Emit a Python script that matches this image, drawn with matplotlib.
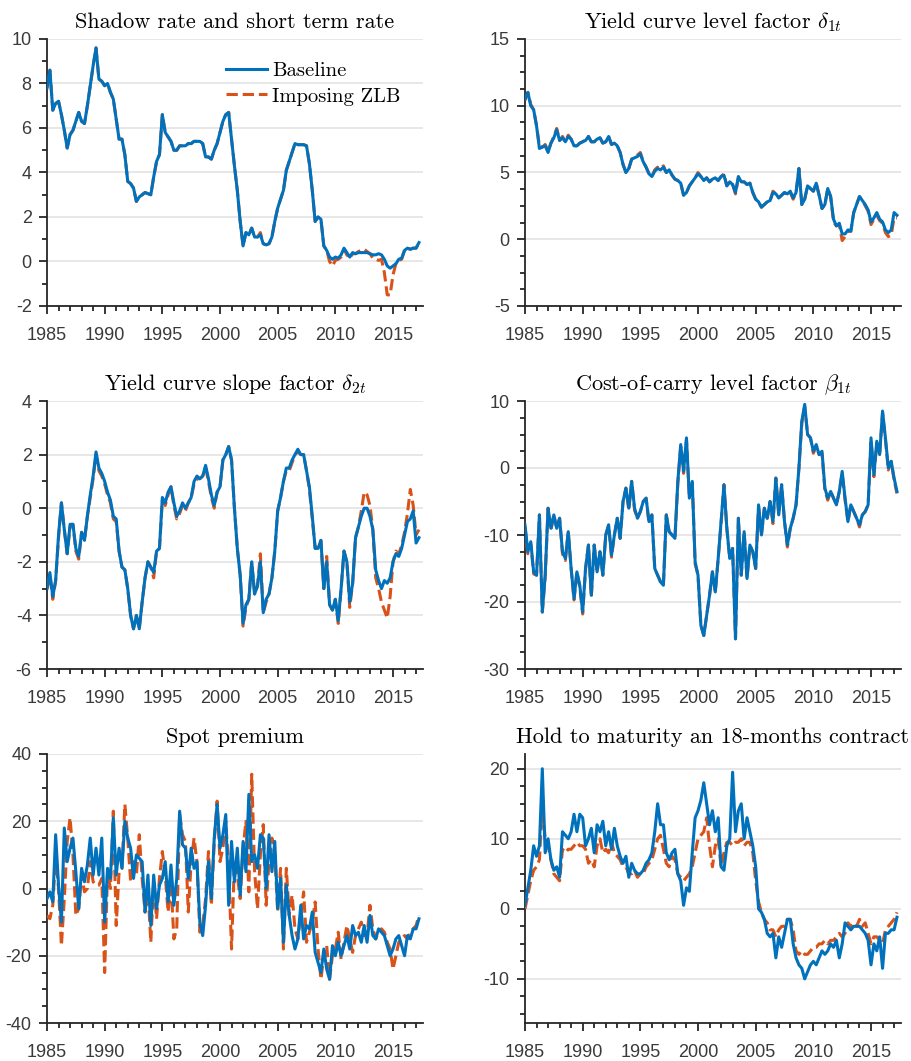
import numpy as np
import pandas as pd
import matplotlib
matplotlib.use("Agg")
import matplotlib.pyplot as plt
from matplotlib.ticker import MultipleLocator

plt.rcParams['mathtext.fontset'] = 'cm'
plt.rcParams['axes.unicode_minus'] = False

# quarterly observations, 1985Q1 .. 2017Q2
quarters = pd.period_range('1985Q1', '2017Q2', freq='Q')
t = np.asarray(quarters.year + (quarters.quarter - 1) / 4.0, dtype=float)

shadow_base = [7.8, 8.6, 6.8, 7.1, 7.2, 6.6, 5.9, 5.1,
               5.7, 5.9, 6.3, 6.7, 6.3, 6.2, 7.0, 7.9,
               8.8, 9.6, 8.2, 8.1, 7.9, 8.0, 7.6, 7.3,
               6.4, 5.5, 5.5, 4.8, 3.6, 3.5, 3.3, 2.7,
               2.9, 3.0, 3.1, 3.05, 3.0, 3.8, 4.5, 4.8,
               6.6, 5.8, 5.6, 5.4, 5.0, 5.0, 5.2, 5.2,
               5.2, 5.3, 5.3, 5.4, 5.4, 5.4, 5.3, 4.7,
               4.7, 4.6, 5.0, 5.3, 5.8, 6.3, 6.6, 6.7,
               5.5, 4.3, 3.2, 1.8, 0.7, 1.3, 1.2, 1.5,
               1.1, 1.1, 1.2, 0.8, 0.75, 0.8, 1.1, 1.8,
               2.4, 2.8, 3.2, 4.1, 4.5, 4.9, 5.3, 5.25,
               5.25, 5.25, 5.2, 4.4, 3.2, 1.8, 2.0, 1.9,
               0.7, 0.5, 0.2, 0.1, 0.2, 0.15, 0.3, 0.6,
               0.4, 0.2, 0.4, 0.35, 0.4, 0.4, 0.4, 0.4,
               0.35, 0.3, 0.3, 0.35, 0.3, 0.1, -0.2, -0.3,
               -0.2, -0.1, 0.1, 0.15, 0.5, 0.6, 0.55, 0.6,
               0.6, 0.85]
shadow_zlb = [7.8, 8.6, 6.8, 7.1, 7.2, 6.6, 5.9, 5.1,
              5.7, 5.9, 6.3, 6.7, 6.3, 6.2, 7.0, 7.9,
              8.8, 9.6, 8.2, 8.1, 7.9, 8.0, 7.6, 7.3,
              6.4, 5.5, 5.5, 4.8, 3.6, 3.5, 3.3, 2.7,
              2.9, 3.0, 3.1, 3.05, 3.0, 3.8, 4.5, 4.8,
              6.6, 5.8, 5.6, 5.4, 5.0, 5.0, 5.2, 5.2,
              5.2, 5.3, 5.3, 5.4, 5.4, 5.4, 5.3, 4.7,
              4.7, 4.6, 5.0, 5.3, 5.8, 6.3, 6.6, 6.7,
              5.5, 4.3, 3.2, 1.8, 0.7, 1.3, 1.2, 1.5,
              1.1, 1.1, 1.3, 0.8, 0.75, 0.8, 1.1, 1.8,
              2.4, 2.8, 3.2, 4.1, 4.5, 4.9, 5.3, 5.25,
              5.25, 5.25, 5.2, 4.4, 3.2, 1.8, 2.0, 1.9,
              0.7, 0.5, 0.0, -0.2, 0.05, 0.1, 0.2, 0.55,
              0.3, 0.15, 0.35, 0.35, 0.45, 0.5, 0.55, 0.45,
              0.35, 0.15, 0.1, 0.05, 0.1, -0.5, -1.5, -1.5,
              -0.6, -0.1, 0.05, 0.1, 0.5, 0.6, 0.55, 0.6,
              0.6, 0.85]

level_base = [10.5, 11.0, 10.0, 9.7, 8.5, 6.8, 6.9, 7.0,
              6.5, 7.2, 7.6, 8.2, 7.4, 7.6, 7.3, 7.7,
              7.5, 7.0, 7.0, 7.2, 7.3, 7.4, 7.7, 7.3,
              7.3, 7.5, 7.6, 7.2, 7.3, 7.7, 7.1, 7.2,
              7.0, 6.5, 5.6, 5.0, 5.3, 6.0, 6.1, 6.2,
              6.4, 5.8, 5.4, 4.9, 4.7, 5.1, 5.3, 5.2,
              5.4, 5.0, 5.2, 4.8, 4.5, 4.4, 4.2, 3.3,
              3.5, 4.0, 4.3, 4.6, 4.9, 4.7, 4.4, 4.6,
              4.3, 4.5, 4.6, 4.4, 4.7, 4.8, 4.0, 4.3,
              4.1, 3.5, 4.7, 4.3, 4.3, 4.1, 4.2, 3.5,
              3.0, 2.8, 2.4, 2.6, 2.8, 2.9, 3.5, 3.4,
              3.1, 3.3, 3.5, 3.4, 3.6, 3.1, 3.5, 5.3,
              2.6, 3.0, 4.0, 3.8, 3.6, 4.2, 3.3, 2.3,
              2.6, 3.8, 3.2, 1.5, 1.0, 1.2, 0.4, 0.4,
              0.7, 0.6, 2.0, 2.6, 3.2, 2.9, 2.6, 2.2,
              1.3, 1.6, 2.0, 1.5, 1.3, 0.7, 0.5, 0.7,
              2.0, 1.8]
level_zlb = [10.4, 11.0, 10.1, 9.7, 8.5, 7.0, 6.9, 7.1,
             6.6, 7.2, 7.7, 8.3, 7.4, 7.7, 7.3, 7.8,
             7.5, 7.0, 7.0, 7.2, 7.3, 7.5, 7.7, 7.3,
             7.3, 7.5, 7.6, 7.2, 7.3, 7.7, 7.1, 7.2,
             7.0, 6.5, 5.6, 5.0, 5.3, 6.0, 6.1, 6.3,
             6.5, 5.8, 5.4, 4.9, 4.7, 5.2, 5.4, 5.3,
             5.5, 5.0, 5.2, 4.8, 4.5, 4.4, 4.2, 3.3,
             3.5, 4.0, 4.3, 4.6, 5.0, 4.7, 4.4, 4.6,
             4.3, 4.5, 4.6, 4.4, 4.7, 4.9, 4.0, 4.3,
             4.1, 3.4, 4.6, 4.3, 4.3, 4.1, 4.2, 3.5,
             3.0, 2.8, 2.4, 2.6, 2.8, 2.9, 3.6, 3.4,
             3.1, 3.3, 3.5, 3.3, 3.5, 3.0, 3.5, 5.3,
             2.6, 3.0, 4.0, 3.8, 3.6, 4.2, 3.3, 2.3,
             2.6, 3.8, 3.2, 1.3, 1.0, 1.1, -0.1, 0.2,
             0.6, 0.6, 2.0, 2.6, 3.2, 2.9, 2.5, 2.1,
             1.1, 1.5, 1.8, 1.4, 1.2, 0.5, 0.2, 0.3,
             1.6, 1.6]

slope_base = [-3.0, -2.4, -3.3, -2.7, -1.0, 0.2, -0.8, -1.7,
              -0.6, -0.6, -1.5, -1.8, -0.9, -1.2, -0.3, 0.5,
              1.2, 2.1, 1.5, 1.3, 1.0, 0.6, 0.3, -0.3,
              -0.4, -1.6, -2.2, -2.3, -3.0, -4.0, -4.5, -4.0,
              -4.5, -3.5, -2.6, -2.0, -2.2, -2.4, -1.6, -1.5,
              0.4, 0.2, 0.6, 0.8, 0.2, -0.3, -0.1, 0.2,
              0.0, 0.2, 0.4, 1.0, 1.2, 1.1, 1.2, 1.6,
              1.1, 0.5, 0.1, 0.6, 0.8, 1.8, 2.0, 2.3,
              1.8, 0.0, -1.5, -2.5, -4.3, -3.6, -3.4, -2.0,
              -3.2, -2.9, -2.0, -3.9, -3.4, -3.2, -2.6, -1.6,
              -0.1, 0.4, 1.0, 1.5, 1.5, 1.8, 2.0, 2.2,
              2.0, 2.0, 1.4, 0.8, -0.3, -1.5, -1.5, -1.2,
              -3.0, -2.0, -3.6, -3.8, -3.4, -4.2, -3.0, -1.6,
              -2.0, -3.5, -2.8, -1.1, -0.7, -0.3, 0.0, 0.0,
              -0.3, -0.8, -2.3, -2.7, -3.0, -2.7, -2.8, -2.6,
              -2.0, -1.7, -1.8, -1.5, -1.0, -0.5, -0.4, -0.1,
              -1.3, -1.1]
slope_zlb = [-3.0, -2.5, -3.4, -2.7, -1.1, 0.2, -0.8, -1.7,
             -0.7, -0.6, -1.6, -1.9, -0.9, -1.2, -0.3, 0.4,
             1.1, 2.0, 1.4, 1.2, 0.9, 0.5, 0.2, -0.4,
             -0.5, -1.6, -2.2, -2.3, -3.0, -4.0, -4.5, -4.0,
             -4.5, -3.5, -2.6, -2.0, -2.2, -2.6, -1.6, -1.5,
             0.3, 0.1, 0.5, 0.8, 0.1, -0.4, -0.2, 0.1,
             -0.1, 0.2, 0.4, 0.9, 1.1, 1.1, 1.2, 1.5,
             1.0, 0.4, 0.0, 0.6, 0.8, 1.8, 2.0, 2.3,
             1.8, 0.0, -1.5, -2.5, -4.4, -3.7, -3.4, -2.0,
             -3.2, -2.9, -1.7, -3.9, -3.5, -3.2, -2.6, -1.6,
             -0.1, 0.4, 1.0, 1.4, 1.4, 1.7, 2.0, 2.1,
             2.0, 2.0, 1.4, 0.7, -0.4, -1.5, -1.4, -1.2,
             -3.0, -1.8, -3.6, -3.8, -3.4, -4.3, -3.0, -1.6,
             -2.0, -3.7, -2.8, -1.1, -0.7, -0.1, 0.6, 0.5,
             0.1, -0.8, -2.6, -3.0, -3.5, -3.8, -4.1, -3.3,
             -2.0, -1.6, -1.7, -1.4, -0.9, -0.2, 0.7, 0.1,
             -1.0, -0.8]

carry_base = [-8.5, -12.5, -11.0, -15.5, -16.0, -7.0, -21.5, -16.0,
              -6.0, -9.0, -7.0, -9.0, -7.5, -12.5, -13.5, -9.5,
              -15.0, -19.5, -15.5, -17.5, -21.5, -15.0, -11.5, -19.0,
              -11.5, -15.5, -12.5, -16.0, -10.0, -8.5, -13.0, -10.0,
              -7.5, -10.5, -5.0, -3.0, -6.0, -2.0, -6.0, -7.5,
              -6.5, -5.0, -4.5, -8.0, -7.0, -15.0, -16.0, -17.0,
              -17.5, -7.0, -9.5, -10.0, -10.5, -2.0, 3.5, -0.5,
              4.5, -4.5, -2.0, -14.0, -16.0, -23.5, -25.0, -22.0,
              -19.0, -15.5, -18.5, -13.5, -8.0, -2.5, -9.0, -13.5,
              -12.0, -25.5, -7.5, -16.0, -9.5, -16.5, -11.5, -12.5,
              -15.0, -5.5, -10.0, -6.0, -7.5, -5.0, -8.0, -1.5,
              -7.0, -2.5, -8.0, -11.5, -9.0, -7.5, -5.5, 0.0,
              7.0, 9.5, 5.0, 4.5, 2.5, 3.5, 2.0, 2.5,
              -3.0, -4.5, -3.5, -4.5, -5.5, -3.5, -0.5, -4.5,
              -8.0, -5.5, -6.5, -7.5, -8.5, -7.0, -6.5, -5.5,
              4.5, -1.0, 4.0, 2.0, 8.5, 4.5, 0.0, 1.0,
              -1.5, -3.5]
carry_zlb = [-8.8, -12.8, -11.3, -15.8, -16.0, -7.0, -21.5, -16.3,
             -6.0, -9.3, -7.0, -9.0, -7.5, -12.8, -13.8, -9.5,
             -15.0, -19.7, -15.5, -17.8, -21.8, -15.0, -11.5, -19.3,
             -11.5, -15.5, -12.5, -16.0, -10.0, -8.5, -13.3, -10.0,
             -7.5, -10.5, -5.0, -3.0, -6.3, -2.0, -6.3, -7.5,
             -6.5, -5.0, -4.5, -8.3, -7.0, -15.0, -16.0, -17.0,
             -17.5, -7.0, -9.5, -10.0, -10.5, -2.3, 3.2, -0.8,
             4.2, -4.5, -2.0, -14.3, -16.0, -23.5, -25.0, -22.0,
             -19.0, -15.5, -18.5, -13.5, -8.3, -2.5, -9.0, -13.5,
             -12.0, -25.5, -7.5, -16.0, -9.5, -16.5, -11.5, -12.5,
             -15.0, -5.8, -10.0, -6.0, -7.5, -5.0, -8.3, -1.5,
             -7.0, -2.5, -8.0, -11.8, -9.0, -7.5, -5.5, 0.0,
             6.7, 9.2, 5.0, 4.5, 2.2, 3.2, 2.0, 2.2,
             -3.3, -4.8, -3.5, -4.5, -5.5, -3.5, -0.8, -4.8,
             -8.0, -5.5, -6.5, -7.5, -8.8, -7.0, -6.5, -5.5,
             4.2, -1.3, 3.7, 2.0, 8.2, 4.2, -0.3, 1.0,
             -1.8, -3.8]

spot_base = [-3, -1, -4, 16, 1, -10, 18, 8,
             12, 15, 5, -6, 6, 2, 7, 15,
             4, 12, 4, 15, -10, 6, 3, 21,
             4, 12, 6, 20, 15, 12, 3, 10,
             9, 8, -7, 4, -11, 4, -6, 1,
             3, 8, -4, 7, -5, 3, 23, 13,
             12, 3, 12, 6, 8, -10, -14, -5,
             8, -3, 15, 25, 12, 16, 22, -5,
             14, 2, 12, -2, 14, 5, 28, 8,
             10, 6, 16, 15, 0, 16, 5, 14,
             -6, 3, -16, 1, -8, -14, -18, -15,
             -5, -15, -11, -12, -7, -19, -22, -25,
             -18, -24, -27, -17, -20, -16, -20, -17,
             -14, -18, -11, -14, -13, -16, -11, -16,
             -8, -14, -15, -12, -13, -14, -17, -20,
             -18, -15, -14, -17, -20, -14, -15, -12,
             -12, -9]
spot_zlb = [-8, -9, -5, 10, 0, -17, -3, 14,
            21, 10, -8, -6, 4, -1, 0, 8,
            2, 1, 1, 3, -25, 5, 0, 23,
            -11, 5, 6, 25, 15, 2, 8, 4,
            16, 3, -7, 0, -16, 2, -9, 3,
            11, 4, -7, 2, -15, -12, 22, 16,
            14, -7, 8, 15, 8, -13, -11, -3,
            11, -5, 14, 26, 8, 12, 20, 6,
            -18, 8, 4, -3, 12, 20, -1, 34,
            5, -6, 10, 19, -5, 8, 15, 10,
            -7, 6, -18, 6, -8, -2, -12, -15,
            -8, -1, -16, -13, -10, -4, -18, -27,
            -20, -17, -27, -20, -18, -13, -21, -16,
            -11, -15, -19, -14, -12, -10, -14, -14,
            -5, -12, -15, -13, -12, -13, -16, -18,
            -24, -20, -16, -15, -14, -15, -13, -12,
            -11, -8]

hold_base = [0.5, 3, 5.5, 9, 7.5, 9, 20, 8,
             10, 7, 5.5, 6, 4.5, 11, 10.5, 10,
             11, 13.5, 11, 13.5, 13, 9, 10, 11.5,
             8, 12, 11, 12.5, 9, 11, 8.5, 11.5,
             9, 7.5, 6.5, 7.5, 4.5, 6.5, 5.5, 5,
             5, 5.5, 6.5, 7, 8, 11, 15, 12,
             12, 8, 7, 8, 8.5, 5, 4, 0.5,
             3, 2.5, 8, 13, 14, 15.5, 18, 15,
             12, 14, 11, 13, 6, 5.5, 9, 10,
             19.5, 11, 14, 15, 10, 13, 11, 9,
             6, 0, -0.5, -1.5, -3.5, -4, -3.5, -7,
             -4, -5.5, -3.5, -1.5, -1.5, -5, -7, -8,
             -8.5, -10, -9, -8, -7.5, -8, -7, -6,
             -6.5, -6, -5, -5.5, -4.5, -7, -5, -2,
             -2.5, -3, -2.5, -2.5, -2.5, -3, -3.5, -4.5,
             -8, -5, -6, -4, -8.5, -3.5, -3.5, -3,
             -3, -1.2]
hold_zlb = [0, 2, 4, 5.5, 6, 7, 15, 10,
            9, 7, 5, 4.5, 4, 8.5, 8, 8.5,
            8.5, 9, 9.5, 9, 9, 8.5, 6.5, 7,
            6, 9, 10, 8, 8.5, 8, 9.5, 8,
            7.5, 7, 6, 6, 5, 5, 5.5, 4.5,
            5, 5, 6, 6.5, 7, 8.5, 10, 10.5,
            8.5, 6.5, 6, 7.5, 7, 5, 4.5, 4,
            4.5, 5, 6, 8, 10, 10.5, 11, 13,
            9, 6, 9, 10, 6, 8, 9.5, 9.5,
            9, 9.5, 9.5, 10, 9, 9.5, 9.5, 8,
            4, 1, -0.5, -1.5, -2, -3, -3, -4,
            -3, -2.5, -2.5, -1.5, -1.5, -3, -6, -6.5,
            -6, -6.5, -6.5, -6, -5.5, -5.5, -5, -5,
            -4.5, -5, -4.5, -4.5, -4, -3.5, -4, -3.5,
            -2, -2.5, -2, -2.5, -1.5, -2.5, -2, -3.5,
            -5, -4, -4, -4.5, -5, -3, -2.5, -2,
            -1.5, -0.5]

BLUE = '#0072BD'
ORANGE = '#D95319'
AXCOL = '#262626'
W, H = 911, 1061


def panel(rect_px, title, base, zlb, ylim, major, minor):
    x0, y0, x1, y1 = rect_px
    ax = fig.add_axes([x0 / W, 1 - y1 / H, (x1 - x0) / W, (y1 - y0) / H])
    z_line, = ax.plot(t, zlb, '--', color=ORANGE, lw=2.2, zorder=3)
    b_line, = ax.plot(t, base, '-', color=BLUE, lw=2.2, zorder=4)
    ax.set_xlim(1985, 2017.6)
    ax.set_ylim(*ylim)
    ax.xaxis.set_major_locator(MultipleLocator(5))
    ax.xaxis.set_minor_locator(MultipleLocator(1))
    ax.yaxis.set_major_locator(MultipleLocator(major))
    ax.yaxis.set_minor_locator(MultipleLocator(minor))
    ax.grid(True, axis='y', which='major', color='#e3e3e3', lw=1.2, zorder=0)
    ax.set_axisbelow(True)
    for s in ['top', 'right']:
        ax.spines[s].set_visible(False)
    for s in ['left', 'bottom']:
        ax.spines[s].set_color(AXCOL)
        ax.spines[s].set_linewidth(1.3)
    ax.tick_params(which='both', direction='out', color=AXCOL, width=1.3,
                   labelsize=13, labelcolor='#3a3a3a')
    ax.tick_params(which='major', length=6)
    ax.tick_params(which='minor', length=3.5)
    ax.tick_params(axis='x', which='major', pad=9)
    ax.tick_params(axis='y', which='major', pad=5)
    for lab in ax.get_xticklabels() + ax.get_yticklabels():
        lab.set_fontfamily('Liberation Sans')
    ax.set_title(title, fontfamily='cmr10', fontsize=16, pad=8, color='black')
    return ax, b_line, z_line


fig = plt.figure(figsize=(W / 100, H / 100), dpi=100)

ax1, bl, zl = panel((47, 39, 423, 306), 'Shadow rate and short term rate',
                    shadow_base, shadow_zlb, (-2, 10), 2, 1)
ax1.legend([bl, zl], ['Baseline', 'Imposing ZLB'], loc='upper left',
           bbox_to_anchor=(0.475, 0.915), frameon=False, borderpad=0,
           borderaxespad=0, handlelength=2.0, handletextpad=0.25,
           labelspacing=0.35, prop={'family': 'cmr10', 'size': 14.8})
panel((525, 39, 901, 306), r'Yield curve level factor $\delta_{1t}$',
      level_base, level_zlb, (-5, 15), 5, 1.25)
panel((47, 401, 423, 669), r'Yield curve slope factor $\delta_{2t}$',
      slope_base, slope_zlb, (-6, 4), 2, 1)
panel((525, 401, 901, 669), r'Cost-of-carry level factor $\beta_{1t}$',
      carry_base, carry_zlb, (-30, 10), 10, 2.5)
panel((47, 754, 423, 1023), 'Spot premium',
      spot_base, spot_zlb, (-40, 40), 20, 5)
panel((525, 754, 901, 1023), 'Hold to maturity an 18-months contract',
      hold_base, hold_zlb, (-16.3, 22.1), 10, 2.5)

fig.savefig('out.png', dpi=100)
